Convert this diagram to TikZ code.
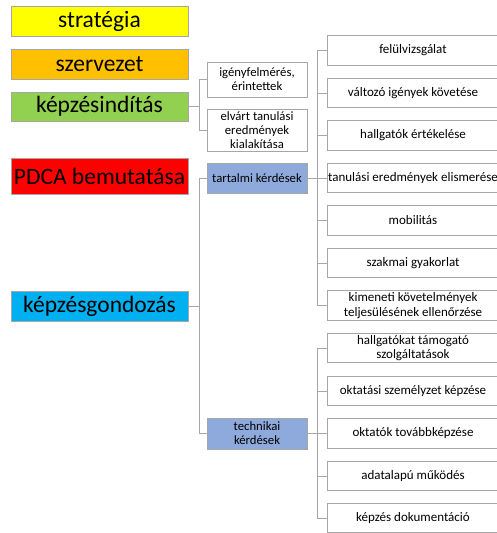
\documentclass[tikz,border=0pt]{standalone}
\usepackage{fontspec}
\setmainfont{Carlito}
\usepackage{xcolor}
\usepackage{tikz}

\definecolor{sarga}{HTML}{FFFF00}
\definecolor{narancs}{HTML}{FFC000}
\definecolor{zold}{HTML}{92D050}
\definecolor{piros}{HTML}{FF0000}
\definecolor{cian}{HTML}{00B0F0}
\definecolor{kek}{HTML}{8EA9DB}
\definecolor{vonal}{HTML}{A6A6A6}

\begin{document}
\begin{tikzpicture}[x=1pt,y=-1pt,
  every node/.style={draw=vonal,line width=0.8pt,inner sep=1pt,align=center},
  fo/.style={minimum width=177pt,minimum height=30pt,font=\fontsize{23.5}{25}\selectfont},
  al/.style={minimum width=100pt,font=\fontsize{12.7}{14.2}\selectfont},
  level/.style={fill=white,minimum width=172pt,minimum height=29.5pt,font=\fontsize{13}{14.5}\selectfont},
  link/.style={draw=vonal,line width=0.9pt}
  ]
  \useasboundingbox (0,0) rectangle (497,533);
  % bal oldali oszlop
  \node[fo,fill=sarga] (strategia) at (99.5,21) {stratégia};
  \node[fo,fill=narancs] (szervezet) at (99.5,64) {szervezet};
  \node[fo,fill=zold,minimum height=29pt] (kepzes) at (99.5,106.5) {képzésindítás};
  \node[fo,fill=piros,minimum height=36pt,font=\fontsize{23.5}{25}\selectfont] (pdca) at (99.5,176) {PDCA bemutatása};
  \node[fo,fill=cian] (gondozas) at (99.5,306) {képzésgondozás};
  % masodik szint
  \node[al,minimum height=35pt] (igeny) at (257,79.5) {igényfelmérés,\\érintettek};
  \node[al,minimum height=42pt] (elvart) at (257,130) {elvárt tanulási\\eredmények\\kialakítása};
  \node[al,fill=kek,minimum height=30pt] (tartalmi) at (257,178) {tartalmi kérdések};
  \node[al,fill=kek,minimum height=31pt] (technikai) at (257,433.5) {technikai\\kérdések};
  % harmadik szint
  \node[level] (felul) at (413,50.5) {felülvizsgálat};
  \node[level] (valtozo) at (413,93) {változó igények követése};
  \node[level] (ertekel) at (413,135.5) {hallgatók értékelése};
  \node[level] (elismer) at (413,178) {tanulási eredmények elismerése};
  \node[level] (mobil) at (413,220.5) {mobilitás};
  \node[level] (szakmai) at (413,263) {szakmai gyakorlat};
  \node[level] (kimeneti) at (413,305.5) {kimeneti követelmények\\teljesülésének ellenőrzése};
  \node[level] (tamogato) at (413,348) {hallgatókat támogató\\szolgáltatások};
  \node[level] (szemely) at (413,391) {oktatási személyzet képzése};
  \node[level] (tovabb) at (413,433.5) {oktatók továbbképzése};
  \node[level] (adat) at (413,476) {adatalapú működés};
  \node[level] (dokument) at (413,518) {képzés dokumentáció};
  % osszekotok
  \draw[link] (kepzes.east) -- ++(11,0) coordinate (ka);
  \draw[link] (igeny.west) -| (ka);
  \draw[link] (elvart.west) -| (ka);
  \draw[link] (gondozas.east) -- ++(11,0) coordinate (ga);
  \draw[link] (tartalmi.west) -| (ga);
  \draw[link] (technikai.west) -| (ga);
  \draw[link] (tartalmi.east) -- ++(10,0) coordinate (ta);
  \foreach \n in {felul,valtozo,ertekel,elismer,mobil,szakmai,kimeneti}
    \draw[link] (\n.west) -| (ta);
  \draw[link] (technikai.east) -- ++(10,0) coordinate (tb);
  \foreach \n in {tamogato,szemely,tovabb,adat,dokument}
    \draw[link] (\n.west) -| (tb);
\end{tikzpicture}
\end{document}
